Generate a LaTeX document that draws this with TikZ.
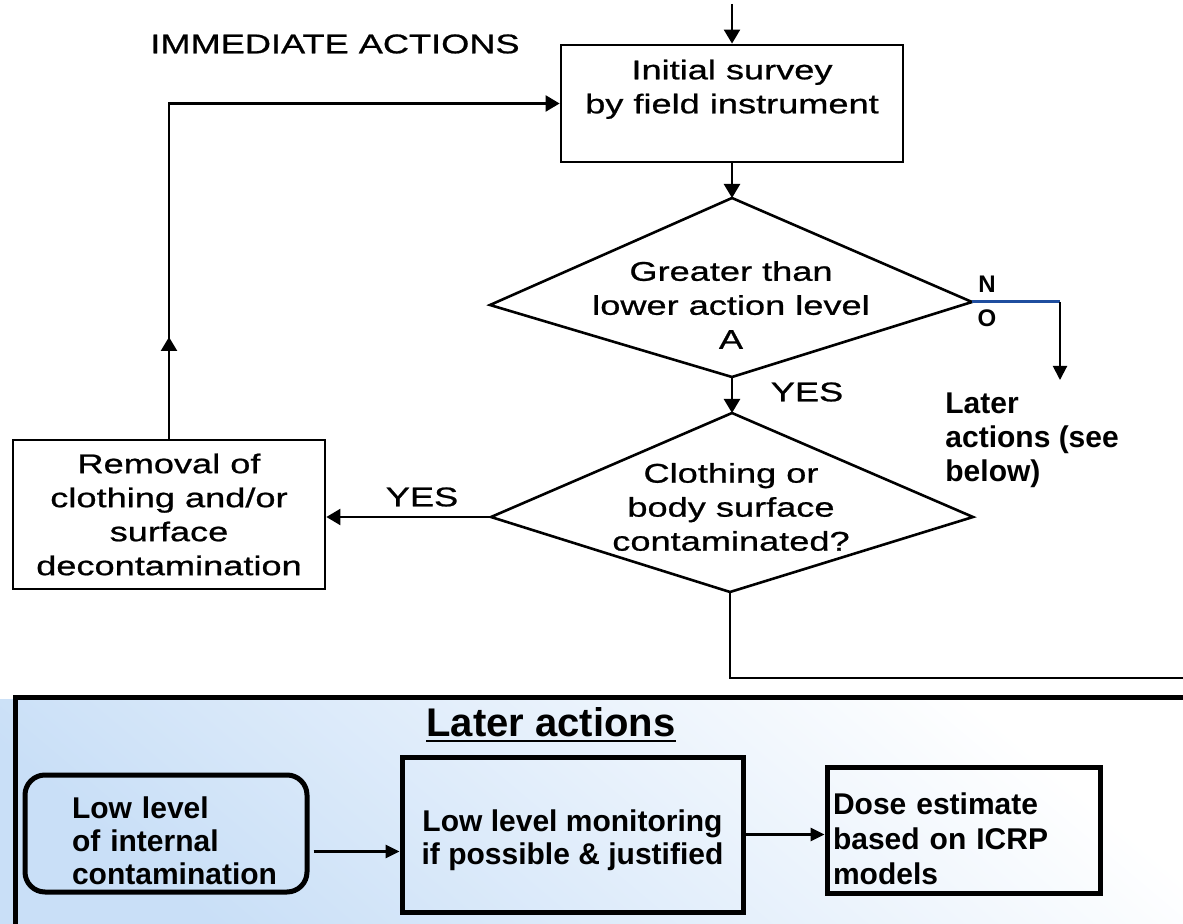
\documentclass[tikz,border=0pt]{standalone}
\usepackage{fontspec}
\setmainfont{Liberation Sans}
\newfontfamily\scanfont[FakeStretch=1.34,FakeBold=0.8]{Liberation Sans}
\usetikzlibrary{arrows.meta,decorations.markings}
\definecolor{panelblue}{HTML}{C9DFF7}
\definecolor{nolink}{HTML}{1F4E9F}

\begin{document}
\begin{tikzpicture}[
    x=0.5pt,y=-0.5pt,
    scantext/.style={font=\scanfont\fontsize{13.5}{17}\selectfont,align=center,inner sep=0pt},
    scanbox/.style={scantext,draw,line width=1.4pt},
    decision/.style={draw,line width=1.3pt,line join=miter},
    scanarr/.style={-{Triangle[length=7pt,width=8pt]},line width=1.2pt},
    feedback/.style={scanarr,postaction={decorate},decoration={markings,mark=at position 0.14 with {\arrow{Triangle[length=7pt,width=8pt]}}}},
    slidetext/.style={font=\bfseries\fontsize{15}{16.5}\selectfont,inner sep=0pt},
    slidebox/.style={slidetext,draw,line width=2.5pt},
    slidearr/.style={-{Triangle[length=7pt,width=6.5pt]},line width=1.4pt}
]
\useasboundingbox (0,0) rectangle (1183,924);
\clip (0,0) rectangle (1183,924);
\fill[white] (0,0) rectangle (1183,924);

% immediate actions (scanned part)
\node[scantext] (immed) at (335,44) {IMMEDIATE ACTIONS};
\node[scanbox,minimum width=171pt,minimum height=58.5pt] (survey) at (732,103.5) {Initial survey\\by field instrument\\\mbox{}};
\node[scanbox,minimum width=156pt,minimum height=74.5pt] (removal) at (169,514.5) {Removal of\\clothing and/or\\surface\\decontamination};

\coordinate (d1t) at (732,198);
\coordinate (d1r) at (972,302);
\coordinate (d1b) at (732,377);
\coordinate (d1l) at (490,305);
\draw[decision] (d1t) -- (d1r) -- (d1b) -- (d1l) -- cycle;
\node[scantext] (d1txt) at (731,305) {Greater than\\lower action level\\A};

\coordinate (d2t) at (732,413);
\coordinate (d2r) at (973,517);
\coordinate (d2b) at (730,592);
\coordinate (d2l) at (491,517);
\draw[decision] (d2t) -- (d2r) -- (d2b) -- (d2l) -- cycle;
\node[scantext] (d2txt) at (731,507) {Clothing or\\body surface\\contaminated?};

\coordinate (entry) at (732,4);
\coordinate (noturn) at (1060,302);
\coordinate (laterend) at (1060,380);
\coordinate (exit) at (1200,678);

\draw[scanarr] (entry) -- (survey.north);
\draw[scanarr] (survey.south) -- (d1t);
\draw[scanarr] (d1b) -- (d2t);
\node[scantext] (yes1) at (807,392) {YES};
\draw[scanarr] (d2l) -- (d2l -| removal.east);
\node[scantext] (yes2) at (422,497) {YES};
\draw[feedback] (removal.north) |- (survey.west);
\draw[line width=1.2pt] (d2b) |- (exit);

% NO branch
\draw[nolink,line width=1.5pt] (d1r) -- (noturn);
\draw[-{Triangle[length=7pt,width=7pt]},line width=1pt] (noturn) -- (laterend);
\node[slidetext,font=\bfseries\fontsize{12}{14}\selectfont] (nolbl) at (987,284) {N};
\node[slidetext,font=\bfseries\fontsize{12}{14}\selectfont] (olbl) at (987,318) {O};
\node[slidetext,align=left,anchor=west,font=\bfseries\fontsize{15}{17}\selectfont] (latertxt) at (945,440) {Later\\actions (see\\below)};

% later actions panel
\shade[top color=white,bottom color=panelblue,shading angle=-40] (0,699) rectangle (1183,924);
\draw[line width=2.5pt] (1200,697) -- (15,697) -- (15,940);
\node[font=\bfseries\fontsize{20}{24}\selectfont,inner sep=0pt,anchor=base] (title) at (551,736) {Later actions};
\draw[line width=1.4pt] ([yshift=-2.5pt]title.base west) -- ([yshift=-2.5pt]title.base east);

\node[slidebox,rounded corners=10pt,minimum width=141pt,minimum height=58.5pt,text width=94pt,align=left,inner xsep=23.5pt] (lowint) at (166,833.5) {\rule{0pt}{18pt}Low level\\of internal\\contamination};
\node[slidebox,minimum width=170.5pt,minimum height=77.5pt,align=center] (monit) at (572.5,834.5) {\mbox{}\\Low level monitoring\\if possible \& justified};
\node[slidebox,font=\bfseries\fontsize{15}{17.5}\selectfont,minimum width=136.5pt,minimum height=63pt,text width=130.5pt,align=left,inner xsep=3pt] (dose) at (963.5,830) {\rule{0pt}{20pt}Dose estimate\\based on ICRP\\models};

\draw[slidearr,shorten <=2pt] ([yshift=-9pt]lowint.east) -- ([yshift=-9pt]lowint.east -| monit.west);
\draw[slidearr] (monit.east) -- (monit.east -| dose.west);
\end{tikzpicture}
\end{document}
